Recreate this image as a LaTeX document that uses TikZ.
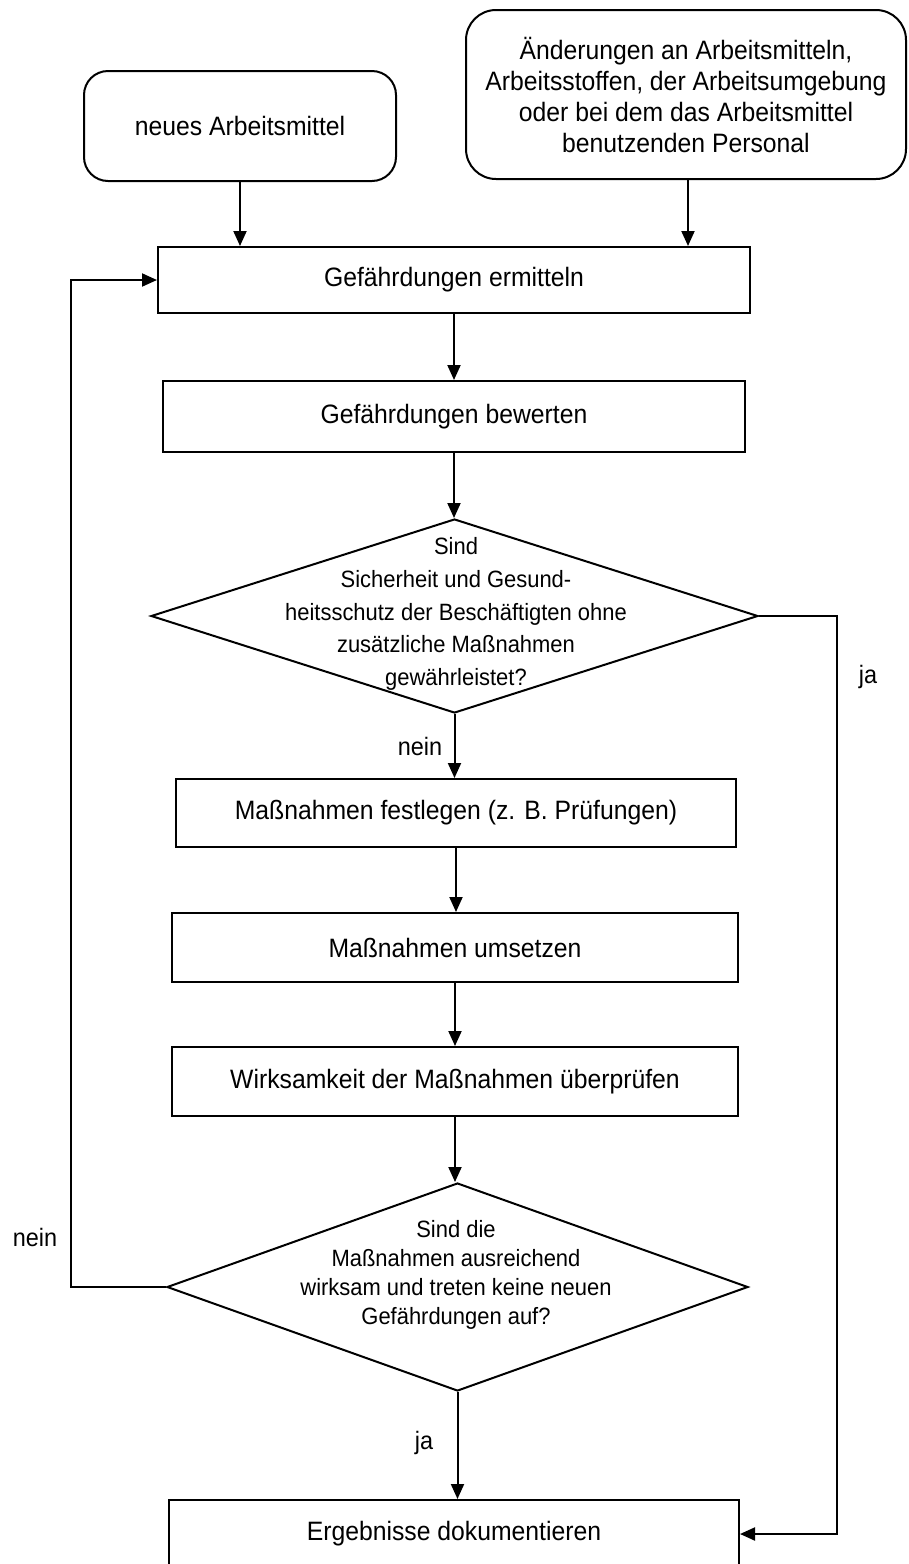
\documentclass[tikz,border=0pt]{standalone}
\usepackage{fontspec}
\setmainfont[FakeStretch=0.93]{Liberation Sans}
\usetikzlibrary{arrows.meta,shapes.geometric}
\begin{document}
\begin{tikzpicture}[x=0.5pt,y=-0.5pt,
  line width=1pt,
  every node/.style={font=\fontsize{13.3}{15.5}\selectfont, align=center, inner sep=0pt},
  box/.style={draw, rectangle},
  rbox/.style={draw, rectangle},
  dia/.style={draw, diamond, inner sep=0pt},
  diatext/.style={font=\fontsize{11.8}{#1}\selectfont},
  lbl/.style={font=\fontsize{12.6}{15}\selectfont},
  arr/.style={-{Triangle[length=7.5pt,width=6.5pt]}}
]
\useasboundingbox (0,0) rectangle (909,1564);

% start boxes
\node[rbox, rounded corners=12pt, minimum width=156pt, minimum height=55pt] (A) at (240,126) {neues Arbeitsmittel};
\node[rbox, rounded corners=15pt, minimum width=220pt, minimum height=84.5pt] (B) at (686,94.5)
  {Änderungen an Arbeitsmitteln,\\ Arbeitsstoffen, der Arbeitsumgebung\\ oder bei dem das Arbeitsmittel\\ benutzenden Personal};

% process boxes
\node[box, minimum width=296pt, minimum height=33pt] (G1) at (454,280) {Gefährdungen ermitteln};
\node[box, minimum width=291pt, minimum height=35.5pt] (G2) at (454,416.5) {Gefährdungen bewerten};

% decision 1
\node[dia, minimum width=303.5pt, minimum height=97pt] (D1) at (454.5,616) {};
\node[diatext=16.3pt] (D1t) at (456,614)
  {Sind\\ Sicherheit und Gesund-\\ heitsschutz der Beschäftigten ohne\\ zusätzliche Maßnahmen\\ gewährleistet?};

\node[box, minimum width=280pt, minimum height=34pt] (M1) at (456,813) {Maßnahmen festlegen (z. B. Prüfungen)};
\node[box, minimum width=283pt, minimum height=34.5pt] (M2) at (455,947.5) {Maßnahmen umsetzen};
\node[box, minimum width=283pt, minimum height=34.5pt] (M3) at (455,1081.5) {Wirksamkeit der Maßnahmen überprüfen};

% decision 2
\node[dia, minimum width=290.5pt, minimum height=104pt] (D2) at (457.5,1287) {};
\node[diatext=14.5pt] (D2t) at (456,1275)
  {Sind die\\ Maßnahmen ausreichend\\ wirksam und treten keine neuen\\ Gefährdungen auf?};

\node[box, minimum width=285pt, minimum height=34pt] (E) at (454,1534) {Ergebnisse dokumentieren};

% labels
\node[lbl] (ja1) at (868,677) {ja};
\node[lbl] (nein1) at (420,746) {nein};
\node[lbl] (nein2) at (35,1237) {nein};
\node[lbl] (ja2) at (424,1443) {ja};

% connectors
\draw[arr] (A.south) -- (A.south |- G1.north);
\draw[arr] ([xshift=1pt]B.south) -- ([xshift=1pt]B.south |- G1.north);
\draw[arr] (G1.south) -- (G1.south |- G2.north);
\draw[arr] (G2.south) -- (G2.south |- D1.north);
\draw[arr] (D1.south) -- (D1.south |- M1.north);
\draw[arr] (M1.south) -- (M1.south |- M2.north);
\draw[arr] (M2.south) -- (M2.south |- M3.north);
\draw[arr] (M3.south) -- (M3.south |- D2.north);
\draw[arr] (D2.south) -- (D2.south |- E.north);
\draw[arr] (D2.west) -- ++(-95,0) |- (G1.west);
\draw[arr] (D1.east) -- ++(78,0) |- (E.east);
\end{tikzpicture}
\end{document}
